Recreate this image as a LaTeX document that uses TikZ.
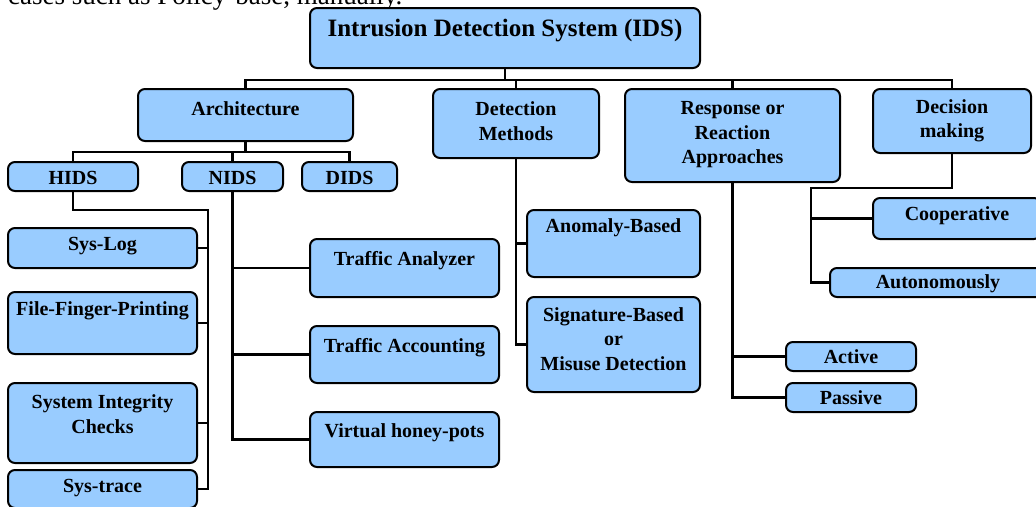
\documentclass[tikz,border=0pt]{standalone}
\usepackage{fontspec}
\setmainfont{Liberation Serif}
\usetikzlibrary{fit}
\definecolor{boxblue}{HTML}{99CCFF}
\tikzset{
  box/.style={draw=black, line width=2pt, rounded corners=7pt, fill=boxblue, inner sep=0pt},
  lbl/.style={font=\fontsize{20pt}{24.5pt}\bfseries\selectfont, align=center, inner sep=0pt, text=black},
  ttl/.style={font=\fontsize{25pt}{30pt}\bfseries\selectfont, inner sep=0pt},
  wire/.style={draw=black, line width=2.8pt},
}
% \tbox{name}{x1}{y1}{x2}{y2}{text y}{text}
\newcommand\tbox[7]{%
  \node[box, fit={(#2,#3)(#4,#5)}] (#1) {};
  \node[lbl, anchor=center] (#1-t) at ({(#2+#4)/2},#6) {#7};
}
\begin{document}
\begin{tikzpicture}[x=1pt, y=-1pt]
\useasboundingbox (0,0) rectangle (1036,506);
\clip (0,0) rectangle (1036,506);

% running text of the page above the figure
\node[font=\fontsize{27pt}{32pt}\selectfont, anchor=base west, inner sep=0pt] (pagetext) at (8,5) {cases such as Policy-base, manually.};

% connectors (drawn first, boxes lie on top)
\coordinate (bus) at (505,80);
\coordinate (abus) at (245.5,152);
\coordinate (hbus) at (208,210);
\coordinate (dbend) at (811,188);

% root
\node[box, fit={(310,8)(700,68)}] (ids) {};
\node[ttl] (ids-t) at (505,31) {Intrusion Detection System (IDS)};

% first level
\tbox{arch}{138}{89}{353}{141}{109}{Architecture}
\tbox{det}{433}{89}{599}{158}{121}{Detection\\Methods}
\tbox{resp}{625}{89}{840}{182}{135}{Response or\\Reaction\\Approaches}
\tbox{dec}{873}{89}{1031}{153}{121}{Decision\\making}

% architecture
\tbox{hids}{8}{162}{138}{191}{178}{HIDS}
\tbox{nids}{182}{162}{283}{191}{178}{NIDS}
\tbox{dids}{302}{162}{397}{191}{178}{DIDS}

% host based
\tbox{syslog}{8}{228}{197}{268}{246}{Sys-Log}
\tbox{ffp}{8}{292}{197}{354}{311}{File-Finger-Printing}
\tbox{sic}{8}{383}{197}{463}{414}{System Integrity\\Checks}
\tbox{systrace}{8}{470}{197}{508}{488}{Sys-trace}

% network based
\tbox{ta}{310}{239}{499}{297}{261}{Traffic Analyzer}
\tbox{tacc}{310}{326}{499}{383}{348}{Traffic Accounting}
\tbox{vhp}{310}{412}{499}{467}{433}{Virtual honey-pots}

% detection methods
\tbox{anom}{527}{210}{700}{277}{228}{Anomaly-Based}
\tbox{sig}{527}{297}{700}{392}{339}{Signature-Based\\or\\Misuse Detection}

% decision making
\tbox{coop}{873}{198}{1041}{239}{216}{Cooperative}
\tbox{auto}{830}{268}{1046}{297}{284}{Autonomously}

% response
\tbox{active}{786}{342}{916}{371}{357}{Active}
\tbox{passive}{786}{383}{916}{412}{398}{Passive}

% connectors
\draw[wire] (ids.south) -- (bus);
\draw[wire] (arch.north) |- (bus);
\draw[wire] (dec.north) |- (bus);
\draw[wire] (det.north) -- (det.north |- bus);
\draw[wire] (resp.north) -- (resp.north |- bus);

\draw[wire] (arch.south) -- (abus);
\draw[wire] (hids.north) |- (abus);
\draw[wire] (dids.north) |- (abus);
\draw[wire] (nids.north) -- (nids.north |- abus);

\draw[wire] (hids.south) |- (hbus) |- (systrace.east);
\draw[wire] (syslog.east) -- (syslog.east -| hbus);
\draw[wire] (ffp.east) -- (ffp.east -| hbus);
\draw[wire] (sic.east) -- (sic.east -| hbus);

\draw[wire] (nids.south) |- (vhp.west);
\draw[wire] (ta.west) -- (ta.west -| nids.south);
\draw[wire] (tacc.west) -- (tacc.west -| nids.south);

\draw[wire] (det.south) |- (sig.west);
\draw[wire] (anom.west) -- (anom.west -| det.south);

\draw[wire] (resp.south) |- (passive.west);
\draw[wire] (active.west) -- (active.west -| resp.south);

\draw[wire] (dec.south) |- (dbend) |- (auto.west);
\draw[wire] (coop.west) -- (coop.west -| dbend);
\end{tikzpicture}
\end{document}
